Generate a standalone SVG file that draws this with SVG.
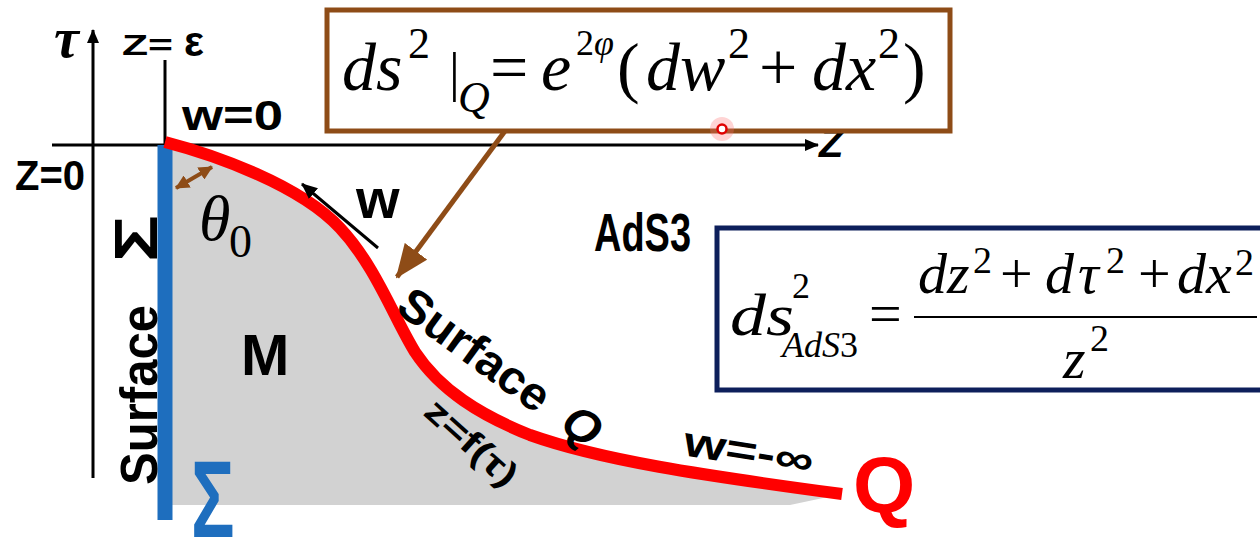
<svg xmlns="http://www.w3.org/2000/svg" width="1260" height="543" viewBox="0 0 1260 543">
<style>
.g{font-family:"Liberation Sans",Arial,sans-serif;font-weight:bold;fill:#000}
.mi{font-family:"Liberation Serif","Times New Roman",serif;font-style:italic;fill:#000}
.mr{font-family:"Liberation Serif","Times New Roman",serif;fill:#000}
.ax{stroke:#000;stroke-width:3;fill:none}
</style>
<defs>
<marker id="axHead" markerUnits="userSpaceOnUse" markerWidth="14" markerHeight="12" refX="13" refY="6" orient="auto"><path d="M0,0 L14,6 L0,12 z" fill="#000"/></marker>
<marker id="wHead" markerUnits="userSpaceOnUse" markerWidth="16" markerHeight="14" refX="15" refY="7" orient="auto"><path d="M0,0 L16,7 L0,14 z" fill="#000"/></marker>
<marker id="brHead" markerUnits="userSpaceOnUse" markerWidth="34" markerHeight="28" refX="32" refY="14" orient="auto"><path d="M0,0 L34,14 L0,28 z" fill="#8E4C17"/></marker>
<marker id="brSmall" markerUnits="userSpaceOnUse" markerWidth="14" markerHeight="14" refX="13" refY="7" orient="auto-start-reverse"><path d="M0,0 L14,7 L0,14 z" fill="#8E4C17"/></marker>
</defs>
<rect width="1260" height="543" fill="#fff"/>

<g id="region-M">
<path d="M165,142 C215,155 300,185 340,228 C375,265 395,320 415,352 C440,390 480,415 530,435 C600,460 700,475 842,494 L790,505 L165,505 Z" fill="#d2d2d2"/>
</g>

<g id="axes">
<line class="ax" x1="93" y1="478" x2="93" y2="30" marker-end="url(#axHead)"/>
<line class="ax" x1="52" y1="145" x2="818" y2="145" marker-end="url(#axHead)"/>
<line class="ax" x1="165" y1="60" x2="165" y2="145"/>
</g>

<g id="surface-sigma">
<line x1="165" y1="145" x2="165" y2="520" stroke="#1E6EBE" stroke-width="15"/>
</g>

<g id="surface-Q">
<path d="M165,142 C215,155 300,185 340,228 C375,265 395,320 415,352 C440,390 480,415 530,435 C600,460 700,475 842,494" fill="none" stroke="#ff0000" stroke-width="12"/>
</g>

<g id="connectors">
<line x1="505" y1="131" x2="397" y2="277" stroke="#8E4C17" stroke-width="5" marker-end="url(#brHead)"/>
<line x1="378" y1="248" x2="302" y2="184" stroke="#000" stroke-width="3" marker-end="url(#wHead)"/>
<line x1="176" y1="188" x2="212" y2="167" stroke="#8E4C17" stroke-width="4" marker-start="url(#brSmall)" marker-end="url(#brSmall)"/>
</g>

<g id="label-tau"><text class="mi" x="54" y="57" font-size="56" font-weight="bold">τ</text></g>
<g id="label-z-eps"><text class="g" x="122" y="55" font-size="30" textLength="51" lengthAdjust="spacingAndGlyphs">Z=</text><text class="g" x="184" y="56" font-size="42">ε</text></g>
<g id="label-z0"><text class="g" x="15" y="190" font-size="42" textLength="70" lengthAdjust="spacingAndGlyphs">Z=0</text></g>
<g id="label-w0"><text class="g" x="182" y="130" font-size="42" textLength="101" lengthAdjust="spacingAndGlyphs">w=0</text></g>
<g id="label-zaxis"><text class="g" x="819" y="157" font-size="40" font-style="italic">Z</text></g>
<g id="label-theta"><text class="mi" x="199" y="240" font-size="64">θ</text><text class="mr" x="229" y="257" font-size="46">0</text></g>
<g id="label-w"><text class="g" x="356" y="218" font-size="56">w</text></g>
<g id="label-AdS3"><text class="g" x="594" y="251" font-size="54" textLength="97" lengthAdjust="spacingAndGlyphs">AdS3</text></g>
<g id="label-M"><text class="g" x="241" y="375" font-size="58">M</text></g>
<g id="label-surface-left">
<text class="g" transform="translate(157,485) rotate(-90)" font-size="52" textLength="180" lengthAdjust="spacingAndGlyphs">Surface</text>
<text class="g" transform="translate(157,262) rotate(-90)" font-size="62" textLength="47" lengthAdjust="spacingAndGlyphs">Σ</text>
</g>
<g id="label-sigma-blue"><text class="g" transform="translate(191,537) scale(0.66,1)" font-size="110" style="fill:#1E6EBE">Σ</text></g>
<g id="label-surface-Q">
<text class="g" transform="translate(394,311) rotate(36)" font-size="47" textLength="176" lengthAdjust="spacingAndGlyphs">Surface</text>
<text class="g" transform="translate(558,428) rotate(36)" font-size="47" font-style="italic">Q</text>
</g>
<g id="label-zf"><text class="g" transform="translate(422,414) rotate(42)" font-size="35" textLength="112" lengthAdjust="spacingAndGlyphs">z=f(τ)</text></g>
<g id="label-winf"><text class="g" transform="translate(682,455) rotate(9)" font-size="42" textLength="131" lengthAdjust="spacingAndGlyphs">w=-∞</text></g>
<g id="label-Q"><text class="g" x="853" y="512" font-size="80" style="fill:#ff0000">Q</text></g>

<g id="eq-Q">
<rect x="327" y="10" width="623" height="121" fill="none" stroke="#8E4C17" stroke-width="5"/>
<text class="mi" x="342" y="90" font-size="68">ds</text>
<text class="mr" x="408" y="58" font-size="44">2</text>
<text class="mr" x="449" y="90" font-size="54">|</text>
<text class="mi" x="458" y="112" font-size="44">Q</text>
<text class="mr" x="490" y="90" font-size="68">=</text>
<text class="mi" x="541" y="90" font-size="68">e</text>
<text x="576" y="55" font-size="36"><tspan class="mr">2</tspan><tspan class="mi">φ</tspan></text>
<text class="mr" x="617" y="90" font-size="68">(</text>
<text class="mi" x="646" y="90" font-size="68">dw</text>
<text class="mr" x="728" y="58" font-size="44">2</text>
<text class="mr" x="759" y="90" font-size="68">+</text>
<text class="mi" x="812" y="90" font-size="68">dx</text>
<text class="mr" x="878" y="58" font-size="44">2</text>
<text class="mr" x="903" y="90" font-size="68">)</text>
</g>

<g id="eq-AdS3">
<rect x="717" y="228" width="560" height="162" fill="none" stroke="#0D1F5B" stroke-width="5"/>
<text class="mi" x="730" y="335" font-size="60" textLength="64" lengthAdjust="spacingAndGlyphs">ds</text>
<text class="mr" x="792" y="298" font-size="36">2</text>
<text x="782" y="357" font-size="36"><tspan class="mi">AdS</tspan><tspan class="mr">3</tspan></text>
<text class="mr" x="869" y="333" font-size="58">=</text>
<line x1="914" y1="317" x2="1257" y2="317" stroke="#000" stroke-width="2"/>
<text class="mi" x="918" y="293" font-size="58">dz</text>
<text class="mr" x="973" y="273" font-size="38">2</text>
<text class="mr" x="1000" y="293" font-size="58">+</text>
<text class="mi" x="1045" y="293" font-size="58">d</text>
<text class="mi" x="1078" y="293" font-size="58">τ</text>
<text class="mr" x="1106" y="273" font-size="38">2</text>
<text class="mr" x="1138" y="293" font-size="58">+</text>
<text class="mi" x="1177" y="293" font-size="58">dx</text>
<text class="mr" x="1235" y="275" font-size="38">2</text>
<text class="mi" x="1063" y="378" font-size="58">z</text>
<text class="mr" x="1090" y="351" font-size="38">2</text>
</g>

<g id="pointer">
<circle cx="722" cy="129" r="12" fill="#ff7070" opacity="0.3"/>
<circle cx="722" cy="129" r="4.5" fill="#fff" stroke="#e00000" stroke-width="2.5"/>
</g>
</svg>
